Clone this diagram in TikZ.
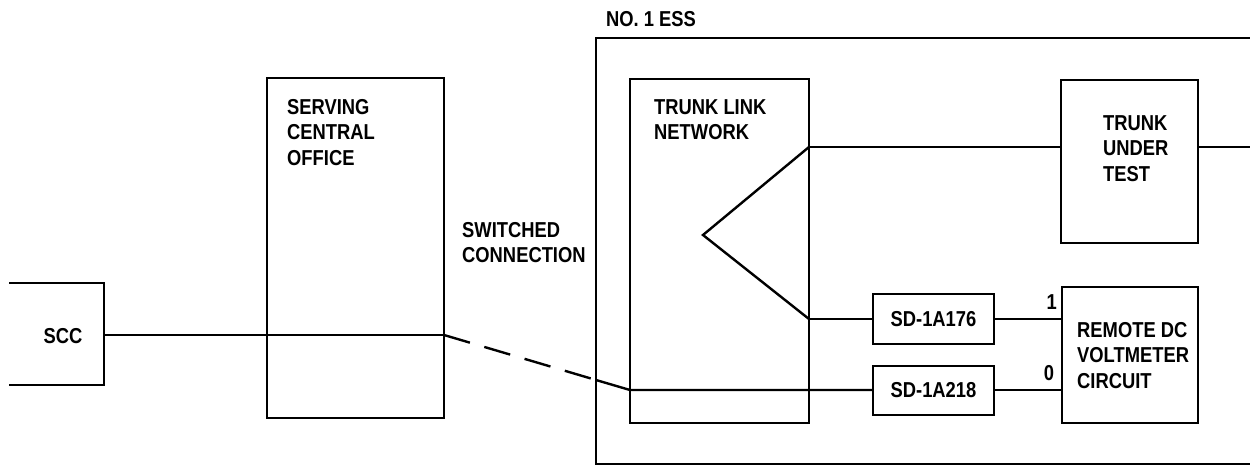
\documentclass[tikz,border=0pt]{standalone}
\usepackage{fontspec}
\setmainfont{Liberation Sans}[FakeStretch=0.85]
\usetikzlibrary{fit}
\begin{document}
\begin{tikzpicture}[x=0.5pt,y=-0.5pt,line width=1.2pt,
  box/.style={draw,rectangle,inner sep=0pt,outer sep=0pt},
  lab/.style={font=\bfseries\fontsize{10.8pt}{12.8pt}\selectfont,inner sep=0pt,align=left},
  sw/.style={dash pattern=on 13.5pt off 7.5pt}]
\useasboundingbox (0,0) rectangle (1250,466);
% SCC (open box)
\draw (9,283) -- (104,283) -- (104,385) -- (9,385);
\coordinate (sccR) at (104,335);
\node[lab] (scc) at (63,336) {SCC};
% serving central office
\node[box,fit={(267,78)(444,418)}] (servco) {};
\node[lab,anchor=north west] (servtxt) at (286,98) {SERVING\\CENTRAL\\OFFICE};
\node[lab,anchor=north west] (swtxt) at (461,221) {SWITCHED\\CONNECTION};
% No. 1 ESS (open on right)
\draw (1250,38) -- (596,38) -- (596,464) -- (1250,464);
\node[lab,anchor=north west] (esstxt) at (605,10) {NO.\ 1 ESS};
% trunk link network
\node[box,fit={(630,79)(809,423)}] (tln) {};
\node[lab,anchor=north west] (tlntxt) at (653,98) {TRUNK LINK\\NETWORK};
% trunk under test
\node[box,fit={(1061,80)(1198,243)}] (tut) {};
\node[lab,anchor=north west] (tuttxt) at (1102,114) {TRUNK\\UNDER\\TEST};
% SD boxes
\node[box,fit={(873,294)(994,344)}] (sdA) {};
\node[lab] at (sdA.center) {SD-1A176};
\node[box,fit={(873,366)(994,415)}] (sdB) {};
\node[lab] at (sdB.center) {SD-1A218};
% remote dc voltmeter
\node[box,fit={(1062,287)(1198,423)}] (rdc) {};
\node[lab,anchor=north west] (rdctxt) at (1076,321) {REMOTE DC\\VOLTMETER\\CIRCUIT};
% coordinates
\coordinate (swA) at (servco.east |- sccR);
\coordinate (swB) at (596,380);
\coordinate (tlB) at (630,390);
\coordinate (triTop) at (809,147);
\coordinate (triL) at (703,235);
\coordinate (triBot) at (tln.east |- sdA.west);
\coordinate (outR) at (1250,147);
% connectors
\draw (sccR) -- (swA);
\draw[sw] (swA) -- (swB);
\draw (swB) -- (tlB) -- (tlB -| sdB.west);
\draw (triTop) -- (triL) -- (triBot);
\draw (triTop) -- (triTop -| tut.west);
\draw (triTop -| tut.east) -- (outR);
\draw (triBot) -- (sdA.west);
\draw (sdA.east) -- (sdA.east -| rdc.west) node[lab,pos=0.85,above=4pt] {1};
\draw (sdB.east |- tlB) -- (tlB -| rdc.west) node[lab,pos=0.81,above=4pt] {0};
\end{tikzpicture}
\end{document}
